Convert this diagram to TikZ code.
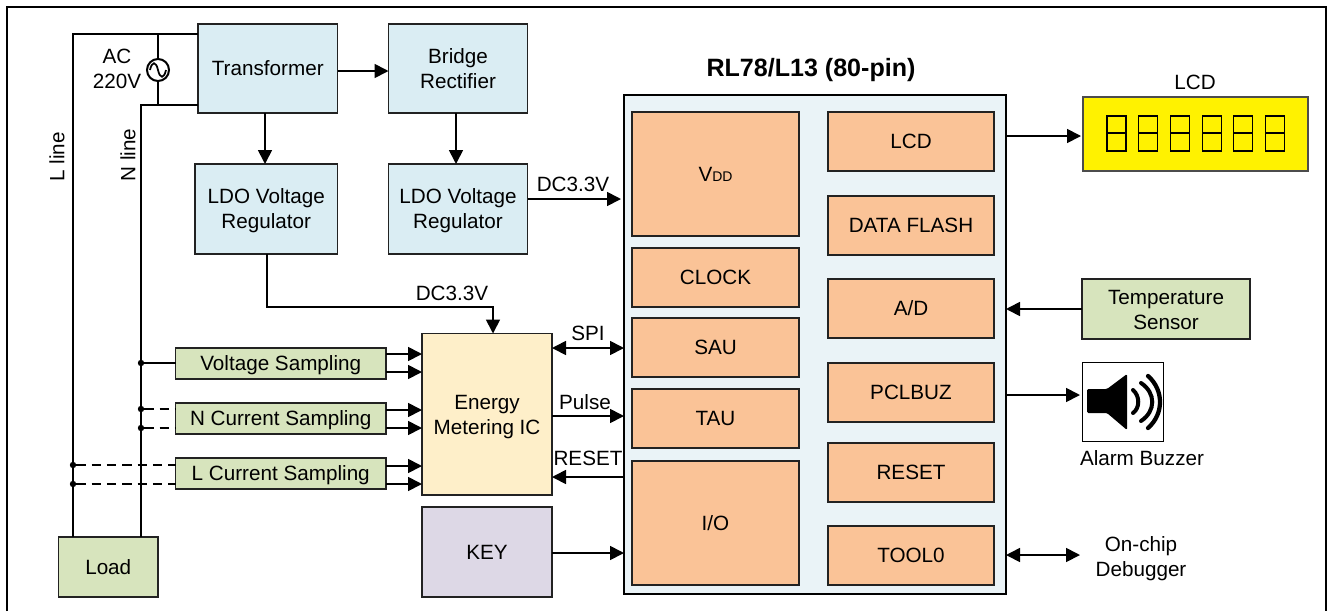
\documentclass[tikz,border=0pt]{standalone}
\usepackage{fontspec}
\setmainfont{Liberation Sans}
\usetikzlibrary{arrows.meta,calc}
\definecolor{cblue}{HTML}{DAEDF3}
\definecolor{cchip}{HTML}{EAF3F7}
\definecolor{corange}{HTML}{FAC397}
\definecolor{cgreen}{HTML}{D7E4BD}
\definecolor{cic}{HTML}{FEEFC9}
\definecolor{ckey}{HTML}{DDD8E6}
\definecolor{cedge}{HTML}{222222}
\newcommand{\bx}[7]{\node[boxbase,#6,minimum width={(#4-#2)*0.75pt},minimum height={(#5-#3)*0.75pt}] (#1) at ({(#2+#4)/2},{(#3+#5)/2}) {#7};}
\newcommand{\lift}[1]{\rule{0pt}{#1pt}}
\tikzset{
  boxbase/.style={draw=cedge,line width=0.9pt,inner sep=0pt,outer sep=0pt,align=center,font=\fontsize{15.5}{18.75}\selectfont},
  lbl/.style={inner sep=0pt,outer sep=0pt,align=center,font=\fontsize{15.5}{18.75}\selectfont},
  blue/.style={fill=cblue},
  orange/.style={fill=corange},
  green/.style={fill=cgreen},
  wire/.style={line width=1.3pt,black},
  arr/.style={wire,-{Triangle[length=10.5pt,width=10.5pt]}},
  biarr/.style={wire,{Triangle[length=10.5pt,width=10.5pt]}-{Triangle[length=10.5pt,width=10.5pt]}},
  dash wire/.style={wire,dash pattern=on 7pt off 4.5pt},
  jdot/.style={circle,fill=black,inner sep=0pt,outer sep=0pt,minimum size=4.8pt}
}
\begin{document}
\begin{tikzpicture}[x=0.75pt,y=-0.75pt]
\useasboundingbox (0,0) rectangle (1330,611);
\draw[line width=1.6pt,black] (7,611) -- (7,7) -- (1326,7) -- (1326,611);
% power section
\bx{tr}{198}{24}{337.5}{113}{blue}{Transformer}
\bx{br}{388.5}{24}{527.5}{113}{blue}{Bridge\\Rectifier}
\bx{ldoa}{195}{164}{337.5}{254}{blue}{\lift{14.3}LDO Voltage\\Regulator}
\bx{ldob}{388.5}{164}{527.5}{254}{blue}{\lift{14.3}LDO Voltage\\Regulator}
% sampling
\bx{vs}{175.5}{348}{386}{379}{green}{\lift{14.3}Voltage Sampling}
\bx{ns}{175.5}{403}{386}{434}{green}{\lift{14.3}N Current Sampling}
\bx{ls}{175.5}{458}{386}{489}{green}{\lift{14.3}L Current Sampling}
\bx{load}{58.5}{537}{158}{597}{green}{Load}
\bx{em}{422}{333.5}{552}{495}{fill=cic}{\lift{14.3}Energy\\Metering IC}
\bx{key}{422}{507}{552}{597}{fill=ckey}{KEY}
% chip
\node[boxbase,fill=cchip,draw=black,line width=1.5pt,minimum width={382*0.75pt},minimum height={499*0.75pt}] (chip) at (815,344.5) {};
\bx{vdd}{632}{112}{799}{236}{orange}{V{\fontsize{10.5}{12}\selectfont DD}}
\bx{clock}{632}{248}{799}{307}{orange}{CLOCK}
\bx{sau}{632}{318}{799}{377}{orange}{SAU}
\bx{tau}{632}{389}{799}{448}{orange}{TAU}
\bx{io}{632}{461}{799}{585}{orange}{I/O}
\bx{lcdb}{828}{112}{994}{171}{orange}{LCD}
\bx{flash}{828}{196}{994}{255}{orange}{DATA FLASH}
\bx{ad}{828}{279}{994}{338}{orange}{A/D}
\bx{pcl}{828}{363}{994}{422}{orange}{PCLBUZ}
\bx{rst}{828}{443}{994}{502}{orange}{RESET}
\bx{tool}{828}{526}{994}{585}{orange}{TOOL0}
\node[lbl,font=\fontsize{18.8}{22}\selectfont\bfseries] (title) at (811,70) {RL78/L13 (80-pin)};
% right peripherals
\bx{lcd}{1083}{97}{1308}{171}{fill=yellow,draw=black!70}{}
\foreach \i in {0,...,5}{
  \draw[line width=0.85pt,black] ({1107+\i*31.7},116) rectangle ({1126+\i*31.7},151);
  \draw[line width=0.85pt,black] ({1107+\i*31.7},133) -- ({1126+\i*31.7},133);
}
\node[lbl] (lcdl) at (1195,82) {LCD};
\bx{temp}{1082}{279}{1250}{339}{green}{\lift{12.8}Temperature\\Sensor}
\bx{buz}{1082}{362}{1163}{441}{fill=white,draw=black,line width=0.7pt}{}
\fill[black,rounded corners=1pt] (1087,389) -- (1107,389) -- (1127,374) -- (1127,430) -- (1107,413) -- (1087,413) -- cycle;
\draw[line width=3.2pt,line cap=round] (1148,376) .. controls (1164,390) and (1164,414) .. (1148,428);
\draw[line width=3pt,line cap=round] (1141,383) .. controls (1156,393) and (1156,411) .. (1141,421);
\draw[line width=3pt,line cap=round] (1133,390) .. controls (1140,396) and (1140,408) .. (1133,413);
\node[lbl] (buzl) at (1142,458) {Alarm Buzzer};
\node[lbl] (dbg) at (1141,559) {On-chip\\Debugger};
% mains
\node[circle,draw=black,line width=1.5pt,fill=white,inner sep=0pt,outer sep=0pt,minimum size={22*0.75pt}] (ac) at (158,70) {};
\draw[line width=1.3pt] (150,70) .. controls (152,61) and (156,61) .. (158,70) .. controls (160,79) and (164,79) .. (166,70);
\coordinate (ltop) at (158,34);
\coordinate (ntop) at (158,105);
\draw[wire] (load.north -| 73,0) -- (73,34) -- (ltop) -- (tr.west |- ltop);
\draw[wire] (load.north -| 141,0) -- (141,105) -- (ntop) -- (tr.west |- ntop);
\draw[wire] (ltop) -- (ac.north);
\draw[wire] (ac.south) -- (ntop);
\node[lbl] (acl) at (117,68.5) {AC\\220V};
\node[lbl,rotate=90] (ll) at (57,157) {L line};
\node[lbl,rotate=90] (nl) at (128,155) {N line};
% power arrows
\draw[arr] (tr.east |- 0,71) -- (br.west |- 0,71);
\draw[arr] (tr.south -| 265,0) -- (ldoa.north -| 265,0);
\draw[arr] (br.south -| 456,0) -- (ldob.north -| 456,0);
\draw[arr] ($(ldob.east |- 0,199)$) -- ($(chip.west |- 0,199)+(-3,0)$);
\node[lbl] (dca) at (573,184) {DC3.3V};
\draw[arr] (ldoa.south -| 267,0) -- (267,307) -- (493,307) -- (em.north -| 493,0);
\node[lbl] (dcb) at (452,293) {DC3.3V};
% sampling wires
\node[jdot] (j1) at (141,363) {};
\node[jdot] (j2) at (141,409) {};
\node[jdot] (j3) at (141,428) {};
\node[jdot] (j4) at (73,465) {};
\node[jdot] (j5) at (73,484) {};
\draw[wire] (j1) -- (vs.west |- j1);
\draw[dash wire] (j2) -- (ns.west |- j2);
\draw[dash wire] (j3) -- (ns.west |- j3);
\draw[dash wire] (j4) -- (ls.west |- j4);
\draw[dash wire] (j5) -- (ls.west |- j5);
\foreach \n/\y in {vs/354,vs/372,ns/410,ns/428,ls/466,ls/484}{
  \draw[arr] (\n.east |- 0,\y) -- (em.west |- 0,\y);
}
% IC to chip
\draw[biarr] (em.east |- 0,348) -- (chip.west |- 0,348);
\node[lbl] (spi) at (588,333) {SPI};
\draw[arr] (em.east |- 0,416) -- (chip.west |- 0,416);
\node[lbl] (pul) at (585,402) {Pulse};
\draw[arr] (chip.west |- 0,477) -- (em.east |- 0,477);
\node[lbl] (rsl) at (588,458) {RESET};
\draw[arr] (key.east |- 0,553) -- (chip.west |- 0,553);
% right connectors
\draw[arr] (chip.east |- 0,136) -- ($(lcd.west |- 0,136)+(-2,0)$);
\draw[arr] (temp.west |- 0,309) -- (chip.east |- 0,309);
\draw[arr] (chip.east |- 0,395) -- ($(buz.west |- 0,395)+(-2,0)$);
\coordinate (dbgend) at (1080,555);
\draw[biarr] (chip.east |- dbgend) -- (dbgend);
\end{tikzpicture}
\end{document}
